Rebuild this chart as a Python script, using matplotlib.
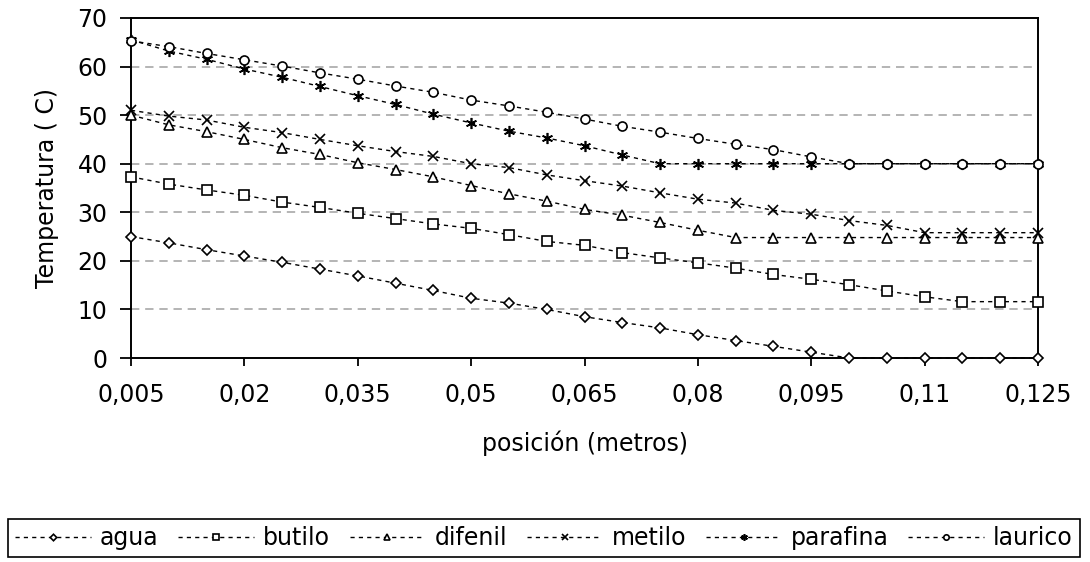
import matplotlib
matplotlib.use("Agg")
import matplotlib.pyplot as plt
import numpy as np

plt.rcParams['font.family'] = ['DejaVu Sans']

x = [0.005, 0.010, 0.015, 0.020, 0.025, 0.030, 0.035, 0.040, 0.045, 0.050,
     0.055, 0.060, 0.065, 0.070, 0.075, 0.080, 0.085, 0.090, 0.095, 0.100,
     0.105, 0.110, 0.115, 0.120, 0.125]

agua = [25.0, 23.7, 22.3, 21.0, 19.7, 18.3, 16.9, 15.4, 13.9, 12.3,
        11.3, 10.0, 8.5, 7.3, 6.2, 4.8, 3.6, 2.4, 1.2, 0.0,
        0.0, 0.0, 0.0, 0.0, 0.0]
butilo = [37.3, 35.8, 34.6, 33.5, 32.1, 31.0, 29.8, 28.7, 27.6, 26.7,
          25.4, 24.0, 23.2, 21.7, 20.6, 19.6, 18.5, 17.2, 16.2, 15.1,
          13.8, 12.6, 11.6, 11.6, 11.6]
difenil = [50.0, 48.0, 46.6, 45.0, 43.3, 41.9, 40.2, 38.8, 37.3, 35.5,
           33.8, 32.3, 30.6, 29.4, 27.9, 26.3, 24.8, 24.8, 24.8, 24.8,
           24.8, 24.8, 24.8, 24.8, 24.8]
metilo = [51.0, 49.8, 49.0, 47.5, 46.4, 45.0, 43.7, 42.5, 41.5, 40.0,
          39.2, 37.7, 36.5, 35.4, 34.0, 32.7, 31.9, 30.4, 29.6, 28.3,
          27.3, 25.8, 25.8, 25.8, 25.8]
parafina = [65.5, 63.2, 61.5, 59.5, 57.8, 55.9, 54.0, 52.2, 50.2, 48.4,
            46.7, 45.3, 43.7, 41.8, 40.0, 40.0, 40.0, 40.0, 40.0, 40.0,
            40.0, 40.0, 40.0, 40.0, 40.0]
laurico = [65.3, 64.1, 62.7, 61.4, 60.1, 58.7, 57.4, 56.0, 54.7, 53.1,
           51.9, 50.6, 49.2, 47.7, 46.5, 45.2, 44.0, 42.9, 41.4, 40.0,
           40.0, 40.0, 40.0, 40.0, 40.0]

series_names = ["agua", "butilo", "difenil", "metilo", "parafina", "laurico"]
series_values = [agua, butilo, difenil, metilo, parafina, laurico]
markers = ["D", "s", "^", "x", (6, 2, 0), "o"]
msizes = [5.5, 6.5, 6.5, 7, 8, 6.5]

xticks = [0.005, 0.02, 0.035, 0.05, 0.065, 0.08, 0.095, 0.11, 0.125]
xtick_labels = ["0,005", "0,02", "0,035", "0,05", "0,065", "0,08", "0,095", "0,11", "0,125"]
yticks = [0, 10, 20, 30, 40, 50, 60, 70]

W, H = 1090, 562
fig = plt.figure(figsize=(W / 100, H / 100), dpi=100)
ax = fig.add_axes([131 / W, 1 - 358 / H, (1038 - 131) / W, (358 - 18) / H])

FS = 17
for name, vals, m, ms in zip(series_names, series_values, markers, msizes):
    ax.plot(x, vals, linestyle=(0, (3, 3)), color="black", linewidth=1.0,
            marker=m, markersize=ms, markerfacecolor="white",
            markeredgecolor="black", markeredgewidth=1.2, clip_on=False,
            label=name, zorder=3)

ax.set_xlim(0.005, 0.125)
ax.set_ylim(0, 70)
ax.set_xticks(xticks)
ax.set_xticklabels(xtick_labels)
ax.set_yticks(yticks)
ax.tick_params(axis="both", labelsize=FS, colors="black", width=1.3)
ax.tick_params(axis="y", direction="out", length=8, pad=9)
ax.tick_params(axis="x", direction="out", length=6, pad=12)

for yv in yticks[1:-1]:
    ax.axhline(yv, color="#a8a8a8", linestyle=(0, (5, 3.5)), linewidth=1.2, zorder=1)

for s in ax.spines.values():
    s.set_linewidth(1.4)
    s.set_color("black")

ax.set_xlabel("posición (metros)", fontsize=FS, labelpad=17)
ax.set_ylabel("Temperatura ( C)", fontsize=FS, labelpad=13)

leg = fig.legend(loc="lower left",
                 bbox_to_anchor=(8 / W, 1 - 557 / H, (1080 - 8) / W, 35 / H),
                 mode="expand", ncol=6, fontsize=FS, frameon=True,
                 fancybox=False, edgecolor="black", framealpha=1,
                 borderaxespad=0, handlelength=3.2, handletextpad=0.4,
                 columnspacing=0.5, markerscale=0.6, borderpad=0.3)
leg.get_frame().set_linewidth(1.2)

fig.savefig("out.png", dpi=100)
